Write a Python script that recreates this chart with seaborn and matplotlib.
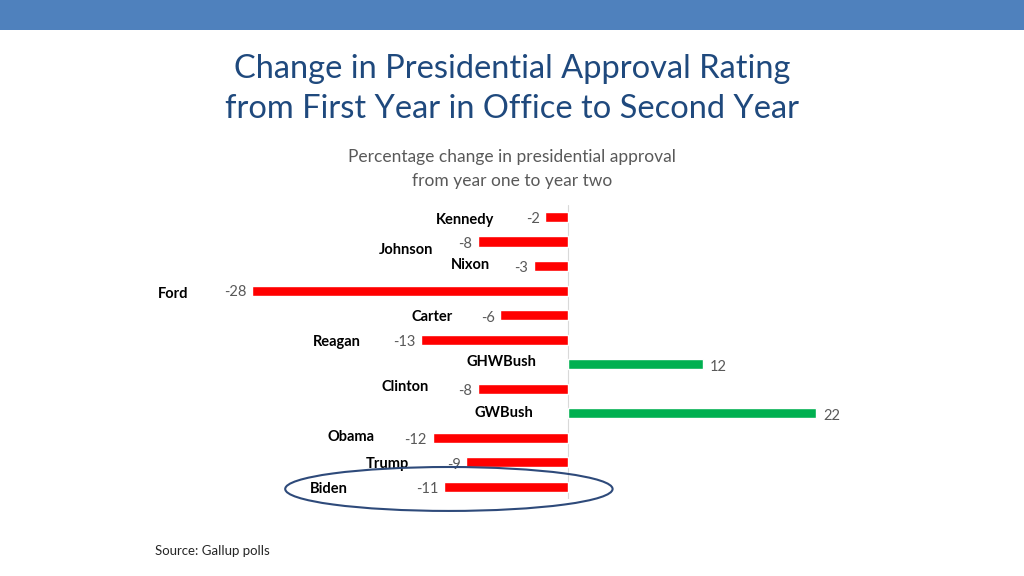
import numpy as np
import pandas as pd
import matplotlib
matplotlib.use("Agg")
import matplotlib.pyplot as plt
from matplotlib.patches import Ellipse, Rectangle
import seaborn as sns

# data
presidents = ["Kennedy", "Johnson", "Nixon", "Ford", "Carter", "Reagan",
              "GHWBush", "Clinton", "GWBush", "Obama", "Trump", "Biden"]
changes = [-2, -8, -3, -28, -6, -13, 12, -8, 22, -12, -9, -11]

# where the bold name labels sit (right edge, data units) and small vertical nudges
name_x = [-6.5, -11.9, -6.9, -33.6, -10.2, -18.4, -2.8, -12.3, -3.1, -17.1, -14.1, -19.5]
name_dy = [0.14, 0.35, -0.06, 0.14, 0.06, 0.1, -0.1, -0.06, -0.02, -0.02, 0.06, 0.1]
value_dy = [0.1, 0.1, 0.06, 0.06, 0.1, 0.1, 0.1, 0.1, 0.1, 0.1, 0.1, 0.1]

TITLE = "Change in Presidential Approval Rating\nfrom First Year in Office to Second Year"
SUBTITLE = "Percentage change in presidential approval\nfrom year one to year two"
SOURCE = "Source: Gallup polls"

RED = "#FF0000"
GREEN = "#00B050"
FONT = ["Lato", "DejaVu Sans"]


def main():
    sns.set_theme(style="white")
    plt.rcParams["font.family"] = FONT

    df = pd.DataFrame({"president": presidents, "change": changes})
    df["sign"] = np.where(df["change"] < 0, "neg", "pos")

    fig = plt.figure(figsize=(10.24, 5.76), dpi=100)
    fig.patch.set_facecolor("white")

    # blue band at the top of the slide
    fig.patches.append(Rectangle((0, 1 - 30 / 576), 1, 30 / 576, transform=fig.transFigure,
                                 facecolor="#4F81BD", edgecolor="none", zorder=0))

    fig.text(0.5, 1 - 89 / 576, TITLE, ha="center", va="center", fontsize=23.5,
             color="#1F497D", linespacing=1.42)
    fig.text(0.5, 1 - 169 / 576, SUBTITLE, ha="center", va="center", fontsize=12.5,
             color="#595959", linespacing=1.6)
    fig.text(155 / 1024, 1 - 551 / 576, SOURCE, ha="left", va="center", fontsize=9.5,
             color="#262626")

    ax = fig.add_axes([161.6 / 1024, 0.1332, 699.9 / 1024, 0.6446 - 0.1332])
    sns.barplot(data=df, x="change", y="president", hue="sign", orient="h",
                palette={"neg": RED, "pos": GREEN}, dodge=False, width=0.41,
                legend=False, saturation=1, ax=ax)

    ax.set_xlim(-36, 26)
    ax.set_ylim(11.5, -0.5)
    ax.axvline(0, color="#D9D9D9", lw=0.8, zorder=0)
    ax.set_xlabel("")
    ax.set_ylabel("")
    ax.set_xticks([])
    ax.set_yticks([])
    for s in ax.spines.values():
        s.set_visible(False)
    ax.patch.set_alpha(0)

    for i, v in enumerate(changes):
        if v < 0:
            ax.text(v - 0.5, i + value_dy[i], f"{v}", ha="right", va="center",
                    fontsize=10.5, color="#595959", clip_on=False)
        else:
            ax.text(v + 0.6, i + value_dy[i], f"{v}", ha="left", va="center",
                    fontsize=10.5, color="#595959", clip_on=False)
        ax.text(name_x[i], i + name_dy[i], presidents[i], ha="right", va="center",
                fontsize=10.5, fontweight="bold", color="black", clip_on=False)

    # ring around the latest president
    ax.add_patch(Ellipse((-10.55, 11.08), 29.0, 1.79, facecolor="none",
                         edgecolor="#2E4A7A", lw=1.5, clip_on=False, zorder=5))

    fig.savefig("out.png", dpi=100)


if __name__ == "__main__":
    main()
